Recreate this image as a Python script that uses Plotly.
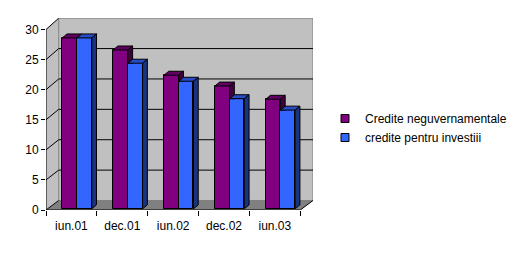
import plotly.graph_objects as go

# ---------------- data ----------------
categories = ["iun.01", "dec.01", "iun.02", "dec.02", "iun.03"]
credite_neguvernamentale = [28.4, 26.4, 22.2, 20.4, 18.2]
credite_investitii = [28.4, 24.2, 21.2, 18.3, 16.4]
series_names = ["Credite neguvernamentale", "credite pentru investiii"]
y_tick_values = [0, 5, 10, 15, 20, 25, 30]

# ---------------- styling / pseudo-3D geometry ----------------
FONT = "Liberation Sans, Arial, sans-serif"
PURPLE = ("#800080", "#600060", "#400040")   # front, top, side
BLUE = ("#3366FF", "#264CC8", "#1A3380")
WALL = "#C0C0C0"
FLOOR = "#808080"

N = len(categories)
YMAX = 30
DX = 0.25        # wall depth (category units)
DY = 1.58        # wall depth (value units)
BACK_K = 1.01    # back wall slightly larger scale (perspective)
XEND = N + DX
BAR_W = 0.29
CX = 0.11        # pair centre offset within category
BASE = 0.2       # bar base lift (depth position)
DDX = 0.093      # bar depth
DDY = 0.66

fig = go.Figure()

# front faces of the bars (real bar traces)
centers = [i + 0.5 + CX for i in range(N)]
x_p = [c - BAR_W / 2 for c in centers]
x_b = [c + BAR_W / 2 for c in centers]
fig.add_trace(go.Bar(x=x_p, y=credite_neguvernamentale, base=[BASE] * N, width=BAR_W,
                     marker=dict(color=PURPLE[0], line=dict(color="black", width=1)),
                     name=series_names[0], showlegend=False, hoverinfo="y"))
fig.add_trace(go.Bar(x=x_b, y=credite_investitii, base=[BASE] * N, width=BAR_W,
                     marker=dict(color=BLUE[0], line=dict(color="black", width=1)),
                     name=series_names[1], showlegend=False, hoverinfo="y"))


def poly_trace(xs, ys, color):
    return go.Scatter(x=xs, y=ys, mode="lines", fill="toself", fillcolor=color,
                      line=dict(color="black", width=1), hoverinfo="skip",
                      showlegend=False)


# purple top faces and visible part of purple side faces
ptx, pty, psx, psy = [], [], [], []
btx, bty, bsx, bsy = [], [], [], []
for i in range(N):
    vp = credite_neguvernamentale[i] + BASE
    vb = credite_investitii[i] + BASE
    x0 = centers[i] - BAR_W
    x1 = centers[i]
    x2 = centers[i] + BAR_W
    ptx += [x0, x1, x1 + DDX, x0 + DDX, x0, None]
    pty += [vp, vp, vp + DDY, vp + DDY, vp, None]
    if vp > vb:
        psx += [x1, x1, x1 + DDX, x1 + DDX, x1, None]
        psy += [vb, vp, vp + DDY, vb, vb, None]
    btx += [x1, x2, x2 + DDX, x1 + DDX, x1, None]
    bty += [vb, vb, vb + DDY, vb + DDY, vb, None]
    bsx += [x2, x2, x2 + DDX, x2 + DDX, x2, None]
    bsy += [BASE, vb, vb + DDY, BASE + DDY, BASE, None]

fig.add_trace(poly_trace(ptx, pty, PURPLE[1]))
if psx:
    fig.add_trace(poly_trace(psx, psy, PURPLE[2]))
fig.add_trace(poly_trace(btx, bty, BLUE[1]))
fig.add_trace(poly_trace(bsx, bsy, BLUE[2]))

# legend entries
fig.add_trace(go.Scatter(x=[None], y=[None], mode="markers", name=series_names[0],
                         marker=dict(symbol="square", size=8, color=PURPLE[0],
                                     line=dict(color="black", width=1))))
fig.add_trace(go.Scatter(x=[None], y=[None], mode="markers", name=series_names[1],
                         marker=dict(symbol="square", size=8, color=BLUE[0],
                                     line=dict(color="black", width=1))))

# ---------------- walls, floor, gridlines (below traces) ----------------
def back_y(k):
    return DY + k * BACK_K


shapes = []
# left wall
shapes.append(dict(type="path", xref="x", yref="y", layer="below",
                   path=f"M0,0 L{DX},{back_y(0)} L{DX},{back_y(YMAX)} L0,{YMAX} Z",
                   fillcolor=WALL, line=dict(width=0)))
# back wall
shapes.append(dict(type="rect", xref="x", yref="y", layer="below",
                   x0=DX, x1=XEND, y0=back_y(0), y1=back_y(YMAX),
                   fillcolor=WALL, line=dict(color="#808080", width=1)))
# floor
shapes.append(dict(type="path", xref="x", yref="y", layer="below",
                   path=f"M0,0 L{N},0 L{XEND},{back_y(0)} L{DX},{back_y(0)} Z",
                   fillcolor=FLOOR, line=dict(width=0)))
# gridlines: side diagonals + back wall horizontals
for k in y_tick_values:
    shapes.append(dict(type="line", xref="x", yref="y", layer="below",
                       x0=0, y0=k, x1=DX, y1=back_y(k),
                       line=dict(color="black", width=1)))
    if 0 < k < YMAX:
        shapes.append(dict(type="line", xref="x", yref="y", layer="below",
                           x0=DX, y0=back_y(k), x1=XEND, y1=back_y(k),
                           line=dict(color="black", width=1)))
# axis lines
shapes.append(dict(type="line", xref="x", yref="y", layer="above",
                   x0=0, y0=0, x1=0, y1=YMAX, line=dict(color="black", width=1)))
shapes.append(dict(type="line", xref="x", yref="y", layer="above",
                   x0=0, y0=0, x1=N, y1=0, line=dict(color="black", width=1)))
shapes.append(dict(type="line", xref="x", yref="y", layer="above",
                   x0=N, y0=0, x1=XEND, y1=back_y(0), line=dict(color="black", width=1)))

W, H = 528, 254
ML, MR, MT, MB = 46, 200, 18, 44
unit_px = (H - MB - 29.5) / YMAX
y_top = (H - MB - MT) / unit_px

fig.update_layout(
    width=W, height=H,
    margin=dict(l=ML, r=MR, t=MT, b=MB, pad=0),
    paper_bgcolor="white", plot_bgcolor="rgba(0,0,0,0)",
    barmode="overlay", bargap=0,
    font=dict(family=FONT, size=12, color="black"),
    shapes=shapes,
    showlegend=True,
    legend=dict(xref="container", yref="container", x=325 / W, y=1 - 104 / H,
                xanchor="left", yanchor="top", bgcolor="rgba(0,0,0,0)",
                font=dict(family=FONT, size=12, color="black"),
                itemwidth=30, tracegroupgap=0),
    xaxis=dict(range=[0, XEND], showgrid=False, zeroline=False, showline=False,
               tickmode="array", tickvals=[i + 0.5 for i in range(N)], ticktext=categories,
               ticks="outside", ticklen=5, tickcolor="rgba(0,0,0,0)",
               minor=dict(tickmode="array", tickvals=list(range(N + 1)), ticks="outside",
                          ticklen=5, tickcolor="black", showgrid=False),
               tickfont=dict(family=FONT, size=12, color="black"), fixedrange=True),
    yaxis=dict(range=[0, y_top], showgrid=False, zeroline=False, showline=False,
               tickmode="array", tickvals=y_tick_values,
               ticks="outside", ticklen=4, tickcolor="black",
               tickfont=dict(family=FONT, size=12, color="black"), fixedrange=True),
)

fig.write_html("out.html")
